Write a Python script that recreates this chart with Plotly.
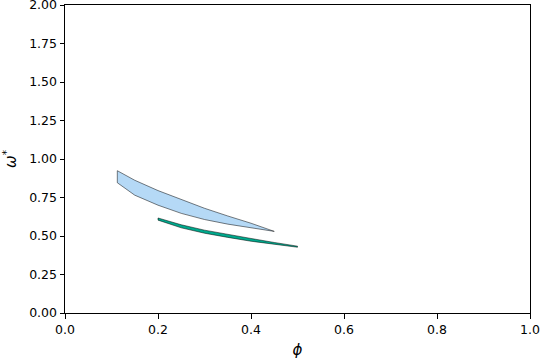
import plotly.graph_objects as go

# Blue region (upper and lower boundaries)
blue_x = [0.1125, 0.15, 0.2, 0.25, 0.3, 0.35, 0.4, 0.45]
blue_upper = [0.924, 0.862, 0.795, 0.735, 0.68, 0.63, 0.583, 0.53]
blue_lower = [0.846, 0.765, 0.70, 0.647, 0.607, 0.577, 0.552, 0.53]

# Teal region
teal_x = [0.2, 0.25, 0.3, 0.35, 0.4, 0.45, 0.5]
teal_upper = [0.617, 0.573, 0.538, 0.509, 0.484, 0.458, 0.434]
teal_lower = [0.603, 0.553, 0.518, 0.491, 0.466, 0.445, 0.427]

x_ticks = [0.0, 0.2, 0.4, 0.6, 0.8, 1.0]
y_ticks = [0.0, 0.25, 0.5, 0.75, 1.0, 1.25, 1.5, 1.75, 2.0]

fig = go.Figure()

def band(xs, up, lo, color):
    px = list(xs) + list(reversed(xs)) + [xs[0]]
    py = list(up) + list(reversed(lo)) + [up[0]]
    fig.add_trace(go.Scatter(x=px, y=py, mode="lines", fill="toself",
                             fillcolor=color, line=dict(color="black", width=0.5),
                             showlegend=False, hoverinfo="skip"))

band(blue_x, blue_upper, blue_lower, "#b5d9f6")
band(teal_x, teal_upper, teal_lower, "#00a88c")

axis_common = dict(showline=True, linecolor="black", linewidth=1, mirror=True,
                   ticks="outside", ticklen=4.5, tickwidth=1, tickcolor="black",
                   showgrid=False, zeroline=False, automargin=False,
                   ticklabeloverflow="allow",
                   tickfont=dict(family="DejaVu Sans", size=12.5, color="black"))

fig.update_layout(
    width=540, height=360,
    margin=dict(l=65, r=10, t=5, b=47),
    paper_bgcolor="white", plot_bgcolor="white",
    font=dict(family="DejaVu Sans", size=12.5, color="black"),
    xaxis=dict(range=[0, 1], tickvals=x_ticks,
               ticktext=[f"{v:.1f}" for v in x_ticks],
               title=dict(text="<i>ϕ</i>", standoff=8), **axis_common),
    yaxis=dict(range=[0, 2], tickvals=y_ticks,
               ticktext=[f"{v:.2f}" for v in y_ticks],
               title=dict(text="<i>ω</i><sup>*</sup>", standoff=8), **axis_common),
)

fig.write_html("out.html", config={"displayModeBar": False},
               post_script="document.body.style.margin='0px';")
